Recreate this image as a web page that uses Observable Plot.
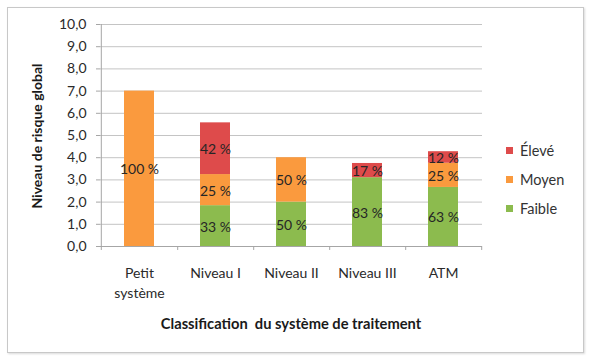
<!DOCTYPE html>
<html>
<head>
<meta charset="utf-8">
<script src="https://cdn.jsdelivr.net/npm/d3@7"></script>
<script src="https://cdn.jsdelivr.net/npm/@observablehq/plot@0.6"></script>
<style>
  body { margin: 0; background: #fff; }
  #wrap { position: relative; width: 590px; height: 357px; font-family: Lato, "Open Sans", sans-serif; }
  #frame { position: absolute; left: 7px; top: 7px; width: 575px; height: 344px; border: 1px solid #C8C8C8; box-shadow: 1px 1px 2px rgba(0,0,0,0.15); }
  #chart { position: absolute; left: 0; top: 0; }
  .ytitle { position: absolute; left: 36px; top: 136px; transform: translate(-50%, -50%) rotate(-90deg); white-space: nowrap; font-weight: bold; font-size: 14px; color: #1a1a1a; }
  .xtitle { position: absolute; left: 291px; top: 323px; transform: translate(-50%, -50%); white-space: pre; font-weight: bold; font-size: 14.7px; color: #1a1a1a; }
  #legend { position: absolute; left: 506px; top: 136px; font-size: 14.5px; color: #333; }
  #legend .item { display: flex; align-items: center; height: 29px; }
  #legend .sw { width: 7px; height: 7px; margin-right: 7px; }
</style>
</head>
<body>
<div id="wrap">
  <div id="frame"></div>
  <div id="chart"></div>
  <div class="ytitle">Niveau de risque global</div>
  <div class="xtitle">Classification  du système de traitement</div>
  <div id="legend"></div>
</div>
<script>
// ---- data ----
const categories = ["Petit système", "Niveau I", "Niveau II", "Niveau III", "ATM"];
const tickLabels = ["Petit\nsystème", "Niveau I", "Niveau II", "Niveau III", "ATM"];
const levels = ["Faible", "Moyen", "Élevé"];
const faible = [0, 1.84, 2.0, 3.10, 2.66];
const moyen  = [7.0, 1.40, 2.0, 0, 1.09];
const eleve  = [0, 2.33, 0, 0.64, 0.52];
const faibleLabels = ["", "33 %", "50 %", "83 %", "63 %"];
const moyenLabels  = ["100 %", "25 %", "50 %", "", "25 %"];
const eleveLabels  = ["", "42 %", "", "17 %", "12 %"];
const yTicks = [0, 1, 2, 3, 4, 5, 6, 7, 8, 9, 10];
const colors = ["#8CBB4E", "#FA9A3E", "#DE4B4B"];

const series = [faible, moyen, eleve];
const labelSeries = [faibleLabels, moyenLabels, eleveLabels];
const rows = [];
levels.forEach((lvl, li) => {
  categories.forEach((c, ci) => {
    rows.push({cat: c, level: lvl, value: series[li][ci], label: labelSeries[li][ci]});
  });
});

const W = 590, H = 357, ML = 100, MR = 108, MT = 24, MB = 111;
const step = (W - ML - MR) / categories.length;

const chart = Plot.plot({
  width: W, height: H,
  marginLeft: ML, marginRight: MR, marginTop: MT, marginBottom: MB,
  style: { fontFamily: "Lato, 'Open Sans', sans-serif", fontSize: "14px", color: "#333", background: "transparent" },
  x: { domain: categories, paddingInner: 0.6, paddingOuter: 0.3, axis: null },
  y: { domain: [0, 10] },
  color: { domain: levels, range: colors },
  marks: [
    Plot.gridY(yTicks, { stroke: "#C4C4C4", strokeOpacity: 1 }),
    Plot.axisY(yTicks, { tickSize: 4, tickPadding: 10, stroke: "#A6A6A6", fill: "#2a2a2a", label: null,
      tickFormat: d => d.toFixed(1).replace(".", ",") }),
    Plot.barY(rows, Plot.stackY({ x: "cat", y: "value", fill: "level", order: levels })),
    Plot.text(rows.filter(d => d.label), Plot.stackY({ x: "cat", y: "value", z: "level", order: levels, text: "label",
      fill: "#262626", fontSize: 14, dy: 1 })),
    Plot.ruleY([0], { stroke: "#A6A6A6" }),
    Plot.ruleX([categories[0]], { dx: -step / 2, y1: -0.18, y2: 10, stroke: "#A6A6A6" }),
    Plot.ruleX(categories, { dx: step / 2, y1: -0.18, y2: 0, stroke: "#A6A6A6" }),
    Plot.text(categories, { x: d => d, text: (d, i) => tickLabels[i], frameAnchor: "bottom", lineAnchor: "top",
      dy: 18, lineHeight: 1.4, fill: "#2a2a2a", fontSize: 14 })
  ]
});
document.getElementById("chart").appendChild(chart);

// legend (top to bottom: Élevé, Moyen, Faible)
const legend = document.getElementById("legend");
[2, 1, 0].forEach(i => {
  const item = document.createElement("div");
  item.className = "item";
  const sw = document.createElement("span");
  sw.className = "sw";
  sw.style.background = colors[i];
  const t = document.createElement("span");
  t.textContent = levels[i];
  item.appendChild(sw); item.appendChild(t);
  legend.appendChild(item);
});
</script>
</body>
</html>
